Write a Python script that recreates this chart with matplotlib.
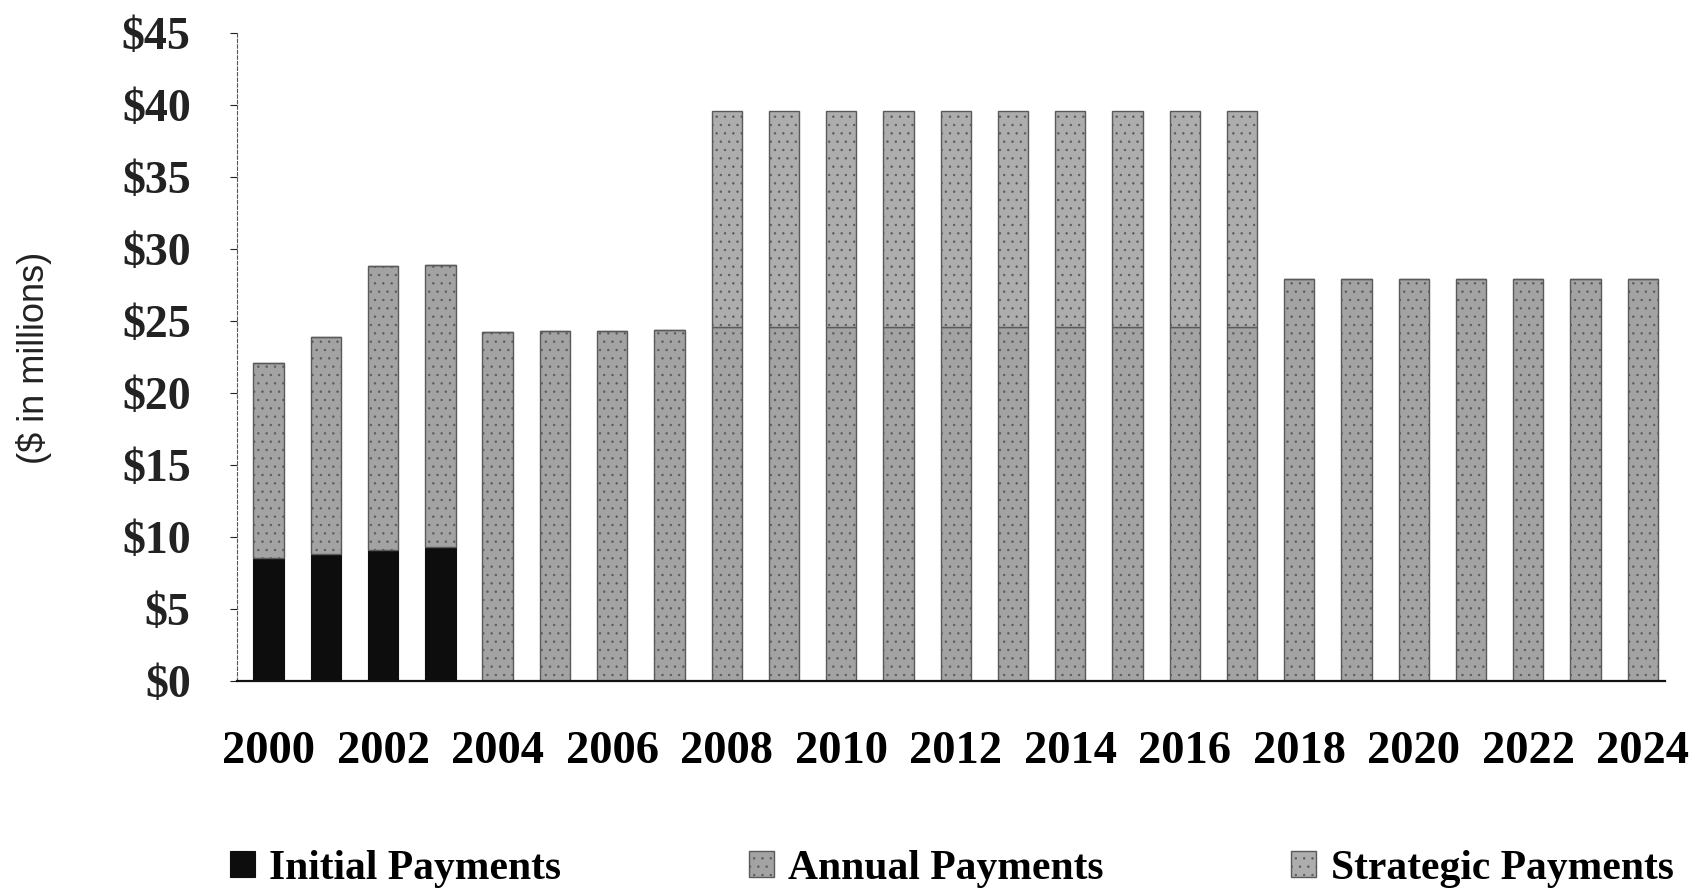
import matplotlib
matplotlib.use("Agg")
import matplotlib.pyplot as plt
import numpy as np

years = list(range(2000, 2025))
initial = [8.5, 8.8, 9.1, 9.3] + [0.0] * 21
annual = [13.6, 15.1, 19.7, 19.6,
          24.2, 24.3, 24.3, 24.4,
          24.6, 24.6, 24.6, 24.6, 24.6, 24.6, 24.6, 24.6, 24.6, 24.6,
          27.9, 27.9, 27.9, 27.9, 27.9, 27.9, 27.9]
strategic = [0.0] * 8 + [15.0] * 10 + [0.0] * 7
xtick_labels = [str(y) for y in years[::2]]
ytick_values = list(range(0, 50, 5))
ytick_labels = ["$" + str(v) for v in ytick_values]

serif = "Liberation Serif"
plt.rcParams["hatch.color"] = "#7f7f7f"
plt.rcParams["hatch.linewidth"] = 0.5

fig = plt.figure(figsize=(17.02, 8.90), dpi=100)
ax = fig.add_axes([0.139, 0.235, 0.839, 0.728])

x = np.arange(len(years))
w = 0.53
b1 = ax.bar(x, initial, w, color="#0d0d0d", edgecolor="#0d0d0d", linewidth=0.8,
            label="Initial Payments")
b2 = ax.bar(x, annual, w, bottom=initial, color="#a3a3a3", edgecolor="#5a5a5a",
            linewidth=1.0, hatch="..", label="Annual Payments")
base3 = np.array(initial) + np.array(annual)
b3 = ax.bar(x, strategic, w, bottom=base3, color="#adadad", edgecolor="#5a5a5a",
            linewidth=1.0, hatch="..", label="Strategic Payments")

ax.set_xlim(-0.56, 24.38)
ax.set_ylim(0, 45)
ax.set_yticks(ytick_values)
ax.set_yticklabels(ytick_labels, fontfamily=serif, fontweight="bold", fontsize=33)
ax.set_xticks(x[::2])
ax.set_xticklabels(xtick_labels, fontfamily=serif, fontweight="bold", fontsize=33.5)
ax.tick_params(axis="x", length=0, pad=36)
ax.tick_params(axis="y", length=5, width=0.8, pad=28, colors="#222222")
for s in ("top", "right"):
    ax.spines[s].set_visible(False)
ax.spines["left"].set_linestyle((0, (3, 2)))
ax.spines["left"].set_linewidth(0.8)
ax.spines["left"].set_color("#555555")
ax.spines["bottom"].set_linewidth(1.6)
ax.spines["bottom"].set_color("#111111")

fig.text(0.02, 0.598, "($ in millions)", rotation=90, va="center", ha="center",
         fontfamily="Liberation Sans", fontsize=26, color="#222222")

fig.legend(handles=[b1, b2, b3], loc="center left", bbox_to_anchor=(0.113, 0.024),
           ncol=3, frameon=False, handlelength=0.6, handleheight=0.6,
           handletextpad=0.35, columnspacing=4.5,
           prop={"family": serif, "weight": "bold", "size": 30})

fig.savefig("out.png", dpi=100, facecolor="white")
